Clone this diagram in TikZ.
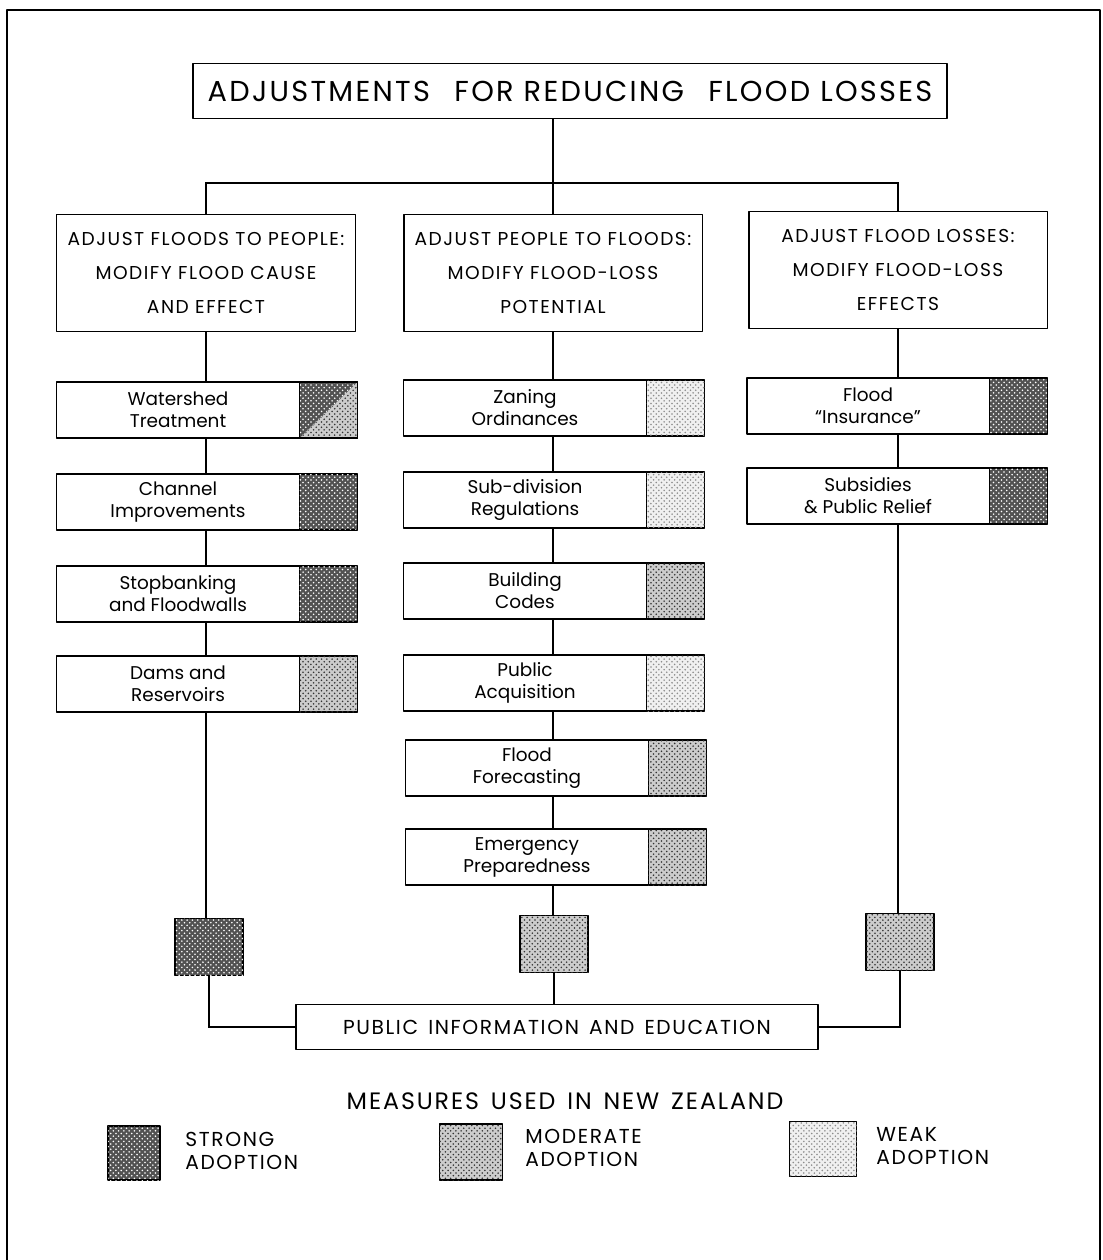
\documentclass[tikz,border=0pt]{standalone}
\usepackage{fontspec}
\setmainfont{Poppins}
\newfontfamily\capsfont[LetterSpace=8]{Poppins}
\usetikzlibrary{positioning,patterns,backgrounds}

\tikzset{
  frame/.style={line width=0.9pt},
  link/.style={line width=0.9pt},
  box/.style={draw, line width=1.1pt, fill=white, align=center, inner sep=0pt, outer sep=0pt},
  titlebox/.style={box, minimum width=15.08cm, minimum height=1.1cm, font=\capsfont\fontsize{16.4}{20}\selectfont},
  headbox/.style={box, minimum width=5.98cm, minimum height=2.34cm, font=\capsfont\fontsize{10.6}{19.5}\selectfont},
  itembox/.style={box, minimum width=4.86cm, minimum height=1.12cm, font=\fontsize{10.5}{12.5}\selectfont},
  pubbox/.style={box, minimum width=10.44cm, minimum height=0.9cm, font=\capsfont\fontsize{11.5}{13}\selectfont},
  swatch/.style={draw, line width=1.1pt, inner sep=0pt, outer sep=0pt, minimum width=1.16cm, minimum height=1.12cm},
  bigswatch/.style={swatch, minimum width=1.36cm, minimum height=1.14cm},
  strong/.style={fill=black!68, postaction={pattern=crosshatch dots, pattern color=white}},
  moderate/.style={fill=black!20, postaction={pattern=crosshatch dots, pattern color=black!80}},
  weak/.style={fill=black!6, postaction={pattern=crosshatch dots, pattern color=black!45}},
  legtext/.style={anchor=west, align=left, inner sep=0pt, font=\capsfont\fontsize{11.5}{13.5}\selectfont}
}

\begin{document}
\begin{tikzpicture}[x=0.02cm, y=-0.02cm, line join=round]
\useasboundingbox (0,0) rectangle (1102,1260);

% Rahmen
\draw[frame] (7,1260) -- (7,10) -- (1100,10) -- (1100,1260);

% Titel und Hauptgruppen
\node[titlebox] (title) at (570,91) {ADJUSTMENTS\enspace\ FOR REDUCING\enspace\ FLOOD LOSSES};
\node[headbox] (adjF) at (206,273) {ADJUST FLOODS TO PEOPLE:\\ MODIFY FLOOD CAUSE\\ AND EFFECT};
\node[headbox] (adjP) at (553,273) {ADJUST PEOPLE TO FLOODS:\\ MODIFY FLOOD-LOSS\\ POTENTIAL};
\node[headbox] (adjL) at (898,270) {ADJUST FLOOD LOSSES:\\ MODIFY FLOOD-LOSS\\ EFFECTS};
\coordinate (fork) at (553,183);

% Linke Spalte
\node[itembox] (ws) at (178,410) {Watershed\\ Treatment};
\node[swatch, moderate, right=0pt of ws] (wsS) {};
\node[itembox] (ch) at (178,502) {Channel\\ Improvements};
\node[swatch, strong, right=0pt of ch] (chS) {};
\node[itembox] (sb) at (178,594) {Stopbanking\\ and Floodwalls};
\node[swatch, strong, right=0pt of sb] (sbS) {};
\node[itembox] (dr) at (178,684) {Dams and\\ Reservoirs};
\node[swatch, moderate, right=0pt of dr] (drS) {};
\fill[strong] (wsS.north west) -- (wsS.north east) -- (wsS.south west) -- cycle;
\draw[line width=1.1pt] (wsS.north west) rectangle (wsS.south east);

% Mittlere Spalte
\node[itembox] (zo) at (525,408) {Zaning\\ Ordinances};
\node[swatch, weak, right=0pt of zo] (zoS) {};
\node[itembox] (sd) at (525,500) {Sub-division\\ Regulations};
\node[swatch, weak, right=0pt of sd] (sdS) {};
\node[itembox] (bc) at (525,591) {Building\\ Codes};
\node[swatch, moderate, right=0pt of bc] (bcS) {};
\node[itembox] (pa) at (525,683) {Public\\ Acquisition};
\node[swatch, weak, right=0pt of pa] (paS) {};
\node[itembox] (ff) at (527,768) {Flood\\ Forecasting};
\node[swatch, moderate, right=0pt of ff] (ffS) {};
\node[itembox] (ep) at (527,857) {Emergency\\ Preparedness};
\node[swatch, moderate, right=0pt of ep] (epS) {};

% Rechte Spalte
\node[itembox] (fi) at (868,406) {Flood\\ ``Insurance''};
\node[swatch, strong, right=0pt of fi] (fiS) {};
\node[itembox] (su) at (868,496) {Subsidies\\ \& Public Relief};
\node[swatch, strong, right=0pt of su] (suS) {};

% Gesamtbewertung und Aufklaerung
\node[bigswatch, strong] (totF) at (209,947) {};
\node[bigswatch, moderate] (totP) at (554,944) {};
\node[bigswatch, moderate] (totL) at (900,942) {};
\node[pubbox] (pub) at (557,1027) {PUBLIC\enspace INFORMATION\enspace AND\enspace EDUCATION};

% Verbindungen
\begin{scope}[on background layer]
\draw[link] (title.south -| adjP.north) -- (adjP.north);
\draw[link] (adjF.north) |- (fork) -| (adjL.north);
\draw[link] (adjF.south) -- (adjF.south |- totF.north);
\draw[link] (adjP.south) -- (adjP.south |- totP.north);
\draw[link] (adjL.south) -- (adjL.south |- totL.north);
\draw[link] (totF.south) |- (pub.west);
\draw[link] (totP.south) -- (totP.south |- pub.north);
\draw[link] (totL.south) |- (pub.east);
\end{scope}

% Legende
\node[font=\capsfont\fontsize{13.5}{15}\selectfont] (meas) at (565,1101) {MEASURES\enspace USED\enspace IN\enspace NEW\enspace ZEALAND};
\node[swatch, strong, minimum width=1.04cm, minimum height=1.08cm] (lgS) at (134,1153) {};
\node[legtext] (lgSt) at (185,1151) {STRONG\\ ADOPTION};
\node[swatch, moderate, minimum width=1.26cm, minimum height=1.12cm] (lgM) at (471,1152) {};
\node[legtext] (lgMt) at (525,1148) {MODERATE\\ ADOPTION};
\node[swatch, weak, minimum width=1.34cm, minimum height=1.1cm] (lgW) at (823,1149) {};
\node[legtext] (lgWt) at (876,1146) {WEAK\\ ADOPTION};
\end{tikzpicture}
\end{document}
